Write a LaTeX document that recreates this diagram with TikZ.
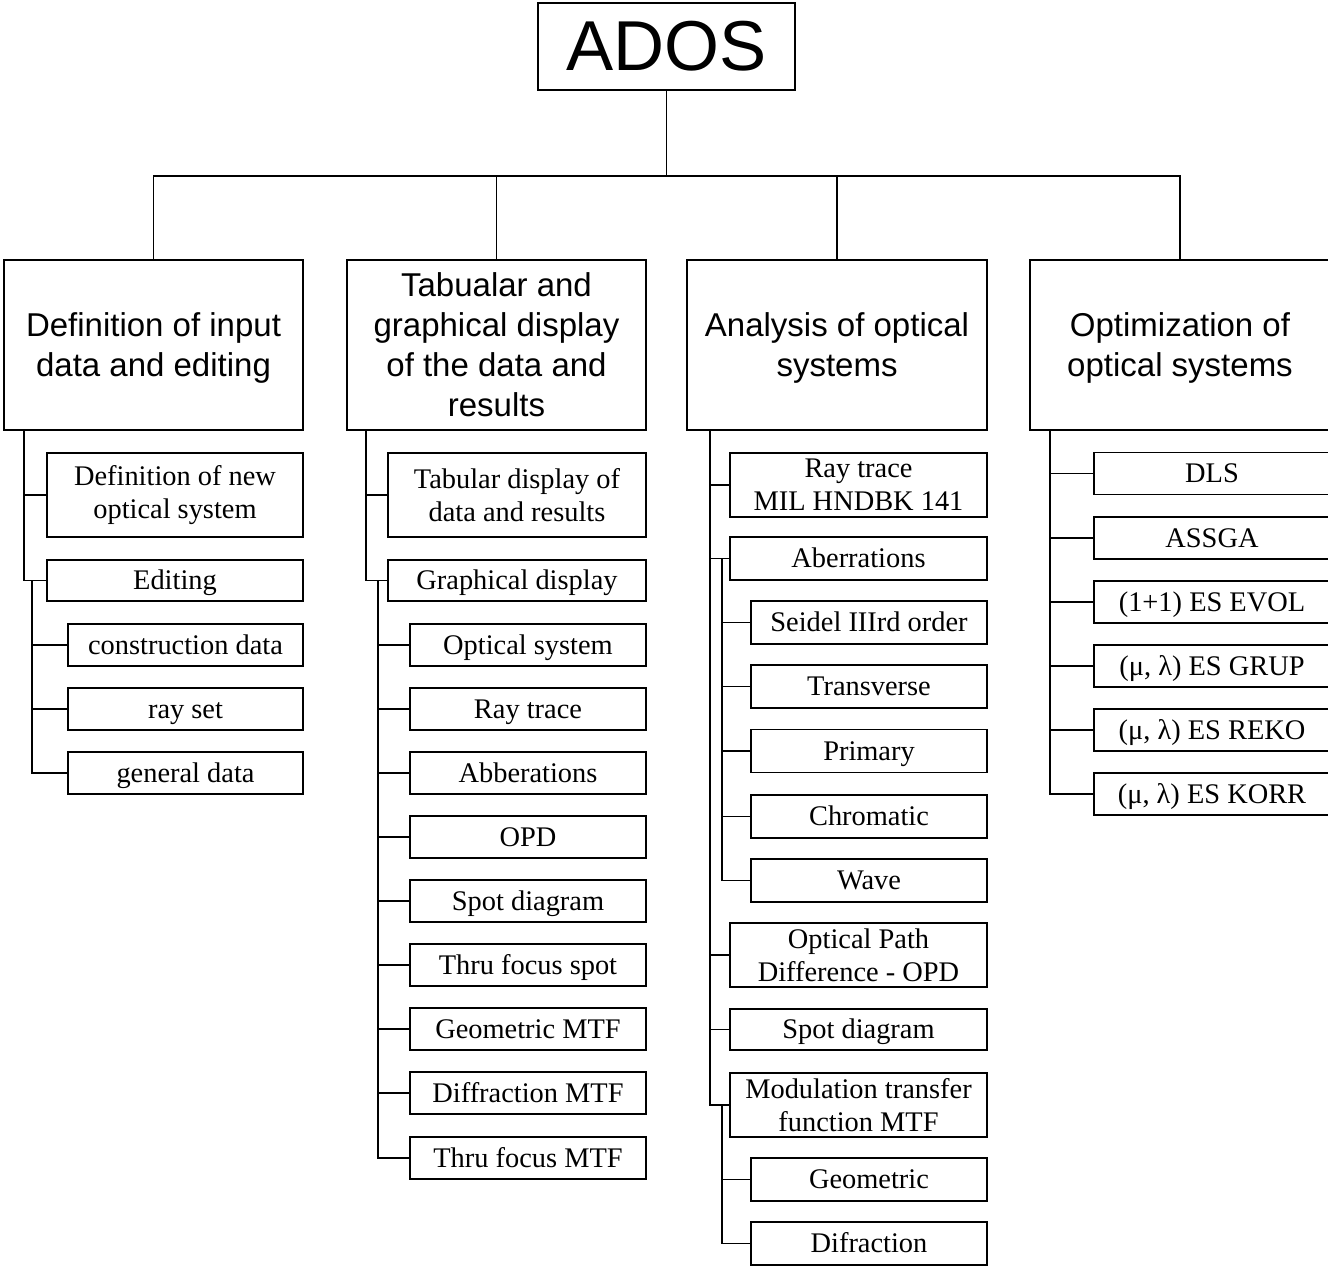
\documentclass[tikz,border=0pt]{standalone}
\usepackage{fontspec}
\setmainfont{Liberation Serif}
\newfontfamily\arialf{Liberation Sans}
\begin{document}
\begin{tikzpicture}[x=0.75pt,y=-0.75pt,
  bx/.style 2 args={draw, line width=1.2pt, inner sep=0pt, align=center,
     minimum width=#1*0.75pt, minimum height=#2*0.75pt},
  topbox/.style={bx={257}{87}, font={\arialf\fontsize{53pt}{60pt}\selectfont}},
  mainbox/.style={bx={#1}{170}, font={\arialf\fontsize{24.75pt}{30pt}\selectfont}},
  twoline/.style={text depth=0.5pt},
  sub/.style 2 args={bx={#1}{#2}, font={\fontsize{21.3pt}{24.75pt}\selectfont}},
  one/.style={text height=19.2pt, text depth=5pt},
  link/.style={draw, line width=1.2pt}
]
\fill[white] (0,0) rectangle (1328,1266);
\useasboundingbox (0,0) rectangle (1328,1266);

% top
\node[topbox] (ados) at (666.5,46.5) {ADOS};

% level 1
\node[mainbox=299, twoline] (A) at (153.5,345) {Definition of input\\data and editing};
\node[mainbox=299] (B) at (496.5,345) {Tabualar and\\graphical display\\of the data and\\results};
\node[mainbox=300, twoline] (C) at (837,345) {Analysis of optical\\systems};
\node[mainbox=300, twoline] (D) at (1180,345) {Optimization of\\optical systems};

\foreach \n in {A,B,C,D}
  \draw[link] (ados.south) -- ++(0,85) -| (\n.north);

% column 1
\node[sub={256}{84}] (A1) at (175,495) {Definition of new\\optical system};
\node[sub={256}{41}, one] (A2) at (175,580.5) {Editing};
\node[sub={235}{42}, one] (A21) at (185.5,645) {construction data};
\node[sub={235}{42}, one] (A22) at (185.5,709) {ray set};
\node[sub={235}{42}, one] (A23) at (185.5,773) {general data};
\foreach \n in {A1,A2}
  \draw[link] ([shift={(21,0)}]A.south west) |- (\n.west);
\foreach \n in {A21,A22,A23}
  \draw[link] ([shift={(-14,0)}]A2.west) |- (\n.west);

% column 2
\node[sub={258}{84}] (B1) at (517,495) {Tabular display of\\data and results};
\node[sub={258}{41}, one] (B2) at (517,580.5) {Graphical display};
\node[sub={236}{42}, one] (B21) at (528,645) {Optical system};
\node[sub={236}{42}, one] (B22) at (528,709) {Ray trace};
\node[sub={236}{42}, one] (B23) at (528,773) {Abberations};
\node[sub={236}{42}, one] (B24) at (528,837) {OPD};
\node[sub={236}{42}, one] (B25) at (528,901) {Spot diagram};
\node[sub={236}{42}, one] (B26) at (528,965) {Thru focus spot};
\node[sub={236}{42}, one] (B27) at (528,1029) {Geometric MTF};
\node[sub={236}{42}, one] (B28) at (528,1093) {Diffraction MTF};
\node[sub={236}{42}, one] (B29) at (528,1158) {Thru focus MTF};
\foreach \n in {B1,B2}
  \draw[link] ([shift={(20,0)}]B.south west) |- (\n.west);
\foreach \n in {B21,B22,B23,B24,B25,B26,B27,B28,B29}
  \draw[link] ([shift={(-9,0)}]B2.west) |- (\n.west);

% column 3
\node[sub={257}{64}] (C1) at (858.5,485) {Ray trace\\MIL HNDBK 141};
\node[sub={257}{43}, one] (C2) at (858.5,558.5) {Aberrations};
\node[sub={236}{43}, one] (C21) at (869,622.5) {Seidel IIIrd order};
\node[sub={236}{43}, one] (C22) at (869,686.5) {Transverse};
\node[sub={236}{43}, one] (C23) at (869,751) {Primary};
\node[sub={236}{43}, one] (C24) at (869,816.5) {Chromatic};
\node[sub={236}{43}, one] (C25) at (869,880.5) {Wave};
\node[sub={257}{64}] (C3) at (858.5,955) {Optical Path\\Difference - OPD};
\node[sub={257}{41}, one] (C4) at (858.5,1029.5) {Spot diagram};
\node[sub={257}{64}] (C5) at (858.5,1105) {Modulation transfer\\function MTF};
\node[sub={236}{43}, one] (C51) at (869,1179.5) {Geometric};
\node[sub={236}{43}, one] (C52) at (869,1243.5) {Difraction};
\foreach \n in {C1,C2,C3,C4,C5}
  \draw[link] ([shift={(24,0)}]C.south west) |- (\n.west);
\foreach \n in {C21,C22,C23,C24,C25}
  \draw[link] ([shift={(-7,0)}]C2.west) |- (\n.west);
\foreach \n in {C51,C52}
  \draw[link] ([shift={(-7,0)}]C5.west) |- (\n.west);

% column 4
\node[sub={236}{42}, one] (D1) at (1212,473.5) {DLS};
\node[sub={236}{42}, one] (D2) at (1212,538) {ASSGA};
\node[sub={236}{42}, one] (D3) at (1212,602) {(1+1) ES EVOL};
\node[sub={236}{42}, one] (D4) at (1212,666) {(μ, λ) ES GRUP};
\node[sub={236}{42}, one] (D5) at (1212,730) {(μ, λ) ES REKO};
\node[sub={236}{42}, one] (D6) at (1212,794) {(μ, λ) ES KORR};
\foreach \n in {D1,D2,D3,D4,D5,D6}
  \draw[link] ([shift={(21,0)}]D.south west) |- (\n.west);
\end{tikzpicture}
\end{document}
